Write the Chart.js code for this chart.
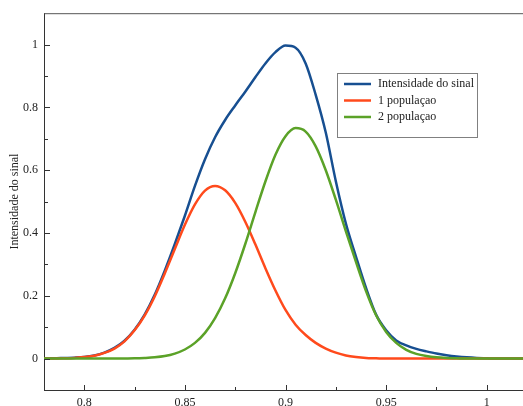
<!DOCTYPE html>
<html>
<head>
<meta charset="utf-8">
<script src="https://cdn.jsdelivr.net/npm/chart.js@4/dist/chart.umd.min.js"></script>
<style>
  html, body { margin: 0; padding: 0; background: #fff; overflow: hidden; }
</style>
</head>
<body>
<canvas id="signalChart" width="523" height="406"></canvas>
<script>
// values
const xValues = [0.78, 0.785, 0.79, 0.795, 0.80, 0.805, 0.81, 0.815, 0.82, 0.825,
                 0.83, 0.835, 0.84, 0.845, 0.85, 0.855, 0.86, 0.865, 0.87, 0.875,
                 0.88, 0.885, 0.89, 0.895, 0.90, 0.905, 0.91, 0.915, 0.92, 0.925,
                 0.93, 0.935, 0.94, 0.945, 0.95, 0.955, 0.96, 0.965, 0.97, 0.975,
                 0.98, 0.985, 0.99, 0.995, 1.0, 1.005, 1.01, 1.015, 1.02];

const signal = [0.001, 0.001, 0.002, 0.003, 0.005, 0.010, 0.019, 0.034, 0.057, 0.092,
                0.140, 0.203, 0.280, 0.365, 0.455, 0.550, 0.635, 0.705, 0.760, 0.806,
                0.850, 0.896, 0.940, 0.976, 0.997, 0.990, 0.940, 0.840, 0.720, 0.565,
                0.430, 0.325, 0.225, 0.140, 0.090, 0.058, 0.042, 0.031, 0.023, 0.016,
                0.011, 0.007, 0.004, 0.002, 0.001, 0.0, 0.0, 0.0, 0.0];

const pop1 = [0.0, 0.0004, 0.001, 0.002, 0.005, 0.009, 0.018, 0.032, 0.055, 0.090,
              0.137, 0.198, 0.271, 0.349, 0.426, 0.491, 0.535, 0.550, 0.536, 0.496,
              0.436, 0.364, 0.288, 0.217, 0.155, 0.108, 0.075, 0.050, 0.032, 0.019,
              0.010, 0.005, 0.002, 0.001, 0.0, 0.0, 0.0, 0.0, 0.0, 0.0,
              0.0, 0.0, 0.0, 0.0, 0.0, 0.0, 0.0, 0.0, 0.0];

const pop2 = [0.0, 0.0, 0.0, 0.0, 0.0, 0.0, 0.0, 0.0, 0.0004, 0.0008,
              0.002, 0.004, 0.008, 0.016, 0.029, 0.050, 0.082, 0.129, 0.192, 0.272,
              0.365, 0.466, 0.564, 0.649, 0.708, 0.734, 0.723, 0.676, 0.600, 0.506,
              0.405, 0.308, 0.215, 0.138, 0.085, 0.050, 0.028, 0.015, 0.008, 0.004,
              0.002, 0.001, 0.0, 0.0, 0.0, 0.0, 0.0, 0.0, 0.0];

const seriesNames = ['Intensidade do sinal', '1 populaçao', '2 populaçao'];
const seriesColors = ['#174f91', '#ff4a1c', '#5ba228'];

const xTicks = [0.8, 0.85, 0.9, 0.95, 1];
const xTickLabels = ['0.8', '0.85', '0.9', '0.95', '1'];
const xMinorTicks = [0.825, 0.875, 0.925, 0.975];
const yTicks = [0, 0.2, 0.4, 0.6, 0.8, 1];
const yTickLabels = ['0', '0.2', '0.4', '0.6', '0.8', '1'];
const yMinorTicks = [-0.1, 0.1, 0.3, 0.5, 0.7, 0.9];

const toPoints = arr => arr.map((v, i) => ({ x: xValues[i], y: v }));

// inward ticks, top border and boxed legend
const framePlugin = {
    id: 'frame',
    afterDraw(chart) {
        const ctx = chart.ctx;
        const area = chart.chartArea;
        const xs = chart.scales.x;
        const ys = chart.scales.y;
        ctx.save();
        ctx.strokeStyle = '#333';
        ctx.lineWidth = 1;
        ctx.beginPath();
        xTicks.forEach(v => {
            const px = Math.round(xs.getPixelForValue(v)) + 0.5;
            ctx.moveTo(px, area.bottom); ctx.lineTo(px, area.bottom - 5);
        });
        xMinorTicks.forEach(v => {
            const px = Math.round(xs.getPixelForValue(v)) + 0.5;
            ctx.moveTo(px, area.bottom); ctx.lineTo(px, area.bottom - 3);
        });
        yTicks.forEach(v => {
            const py = Math.round(ys.getPixelForValue(v)) + 0.5;
            ctx.moveTo(area.left, py); ctx.lineTo(area.left + 6, py);
        });
        yMinorTicks.forEach(v => {
            const py = Math.round(ys.getPixelForValue(v)) + 0.5;
            ctx.moveTo(area.left, py); ctx.lineTo(area.left + 4, py);
        });
        ctx.stroke();

        ctx.strokeStyle = '#555';
        ctx.beginPath();
        ctx.moveTo(area.left, area.top + 0.5);
        ctx.lineTo(area.right, area.top + 0.5);
        ctx.stroke();

        // legend box
        const bx = 337.5, by = 73.5, bw = 140, bh = 64;
        ctx.fillStyle = '#fff';
        ctx.fillRect(bx, by, bw, bh);
        ctx.strokeStyle = '#808080';
        ctx.strokeRect(bx, by, bw, bh);
        ctx.font = '12px "Liberation Serif"';
        ctx.textBaseline = 'middle';
        ctx.fillStyle = '#222';
        chart.data.datasets.forEach((ds, i) => {
            const ry = 84 + i * 16.5;
            ctx.strokeStyle = ds.borderColor;
            ctx.lineWidth = 2.5;
            ctx.beginPath();
            ctx.moveTo(344, ry); ctx.lineTo(371, ry);
            ctx.stroke();
            ctx.fillText(ds.label, 378, ry);
        });
        ctx.restore();
    }
};

Chart.defaults.font.family = '"Liberation Serif", "DejaVu Serif", serif';
Chart.defaults.font.size = 12;
Chart.defaults.color = '#222';

new Chart(document.getElementById('signalChart'), {
    type: 'line',
    data: {
        datasets: [
            { label: seriesNames[0], data: toPoints(signal), borderColor: seriesColors[0], order: 3 },
            { label: seriesNames[1], data: toPoints(pop1), borderColor: seriesColors[1], order: 2 },
            { label: seriesNames[2], data: toPoints(pop2), borderColor: seriesColors[2], order: 1 }
        ]
    },
    options: {
        responsive: false,
        animation: false,
        layout: { padding: { top: 11, right: 0, left: 0, bottom: 0 } },
        elements: {
            point: { radius: 0 },
            line: { borderWidth: 2.5, cubicInterpolationMode: 'monotone', fill: false }
        },
        plugins: {
            legend: { display: false },
            tooltip: { enabled: false }
        },
        scales: {
            x: {
                type: 'linear',
                min: 0.78,
                max: 1.018,
                grid: { display: false, drawTicks: false },
                border: { display: true, color: '#333', width: 1 },
                ticks: {
                    padding: 6,
                    maxRotation: 0,
                    callback: (v) => {
                        const i = xTicks.findIndex(t => Math.abs(t - v) < 1e-9);
                        return i >= 0 ? xTickLabels[i] : '';
                    }
                },
                afterBuildTicks: s => { s.ticks = xTicks.map(v => ({ value: v })); },
                afterFit: s => { s.height = 16; }
            },
            y: {
                min: -0.1,
                max: 1.1,
                grid: { display: false, drawTicks: false },
                border: { display: true, color: '#333', width: 1 },
                title: { display: true, text: 'Intensidade do sinal', padding: { top: 8, bottom: 0 } },
                ticks: {
                    padding: 6,
                    callback: (v) => {
                        const i = yTicks.findIndex(t => Math.abs(t - v) < 1e-9);
                        return i >= 0 ? yTickLabels[i] : '';
                    }
                },
                afterBuildTicks: s => { s.ticks = yTicks.map(v => ({ value: v })); },
                afterFit: s => { s.width = 44; }
            }
        }
    },
    plugins: [framePlugin]
});
</script>
</body>
</html>
